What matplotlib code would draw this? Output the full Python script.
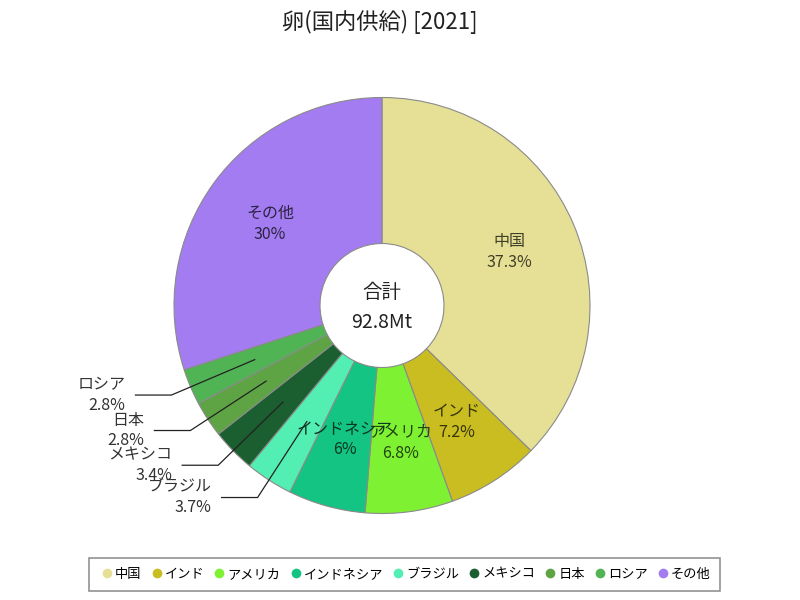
import numpy as np
import matplotlib
matplotlib.use("Agg")
import matplotlib.pyplot as plt
from matplotlib.lines import Line2D
from matplotlib.colors import to_rgb

plt.rcParams['font.family'] = ['Noto Sans CJK JP', 'DejaVu Sans']

title = "卵(国内供給) [2021]"
categories = ["中国", "インド", "アメリカ", "インドネシア", "ブラジル", "メキシコ", "日本", "ロシア", "その他"]
values = [37.3, 7.2, 6.8, 6.0, 3.7, 3.4, 2.8, 2.8, 30.0]
pct_labels = ["37.3%", "7.2%", "6.8%", "6%", "3.7%", "3.4%", "2.8%", "2.8%", "30%"]
colors = ["#e6e096", "#c9bd22", "#7ef232", "#14c482", "#52eeb2", "#1b5e30", "#5ea444", "#50b454", "#a27cf0"]
total_label = "92.8Mt"
outside = ["ブラジル", "メキシコ", "日本", "ロシア"]

fig = plt.figure(figsize=(8, 6), dpi=100)
ax = fig.add_axes([0, 0, 1, 1])
ax.axis('off')

cx, cy = 382, 294.5
R = 208
r_in = 62

wedges, _ = ax.pie(values, startangle=90, counterclock=False, colors=colors,
                   radius=R, center=(cx, cy),
                   wedgeprops=dict(width=R - r_in, edgecolor='#8a8a8a', linewidth=0.8))
ax.set_xlim(0, 800)
ax.set_ylim(0, 600)
ax.set_aspect('equal')

cum = np.cumsum([0] + values[:-1])
tot = sum(values)
for i, (cat, v) in enumerate(zip(categories, values)):
    mid = (cum[i] + v / 2) / tot * 360
    ang = np.deg2rad(90 - mid)
    ca, sa = np.cos(ang), np.sin(ang)
    rl = 0.665 * R
    px, py = cx + rl * ca, cy + rl * sa
    if cat in outside:
        ex, ey = cx + 1.1 * R * ca, cy + 1.1 * R * sa
        hx = ex - 36
        ax.plot([px, ex, hx], [py, ey, ey], color='#222222', lw=0.9)
        ax.text(hx - 10, ey, f"{cat}\n{pct_labels[i]}", ha='right', va='center',
                fontsize=11.5, color='#333333', linespacing=1.3)
    else:
        tc = tuple(np.array(to_rgb(colors[i])) * 0.28)
        ax.text(px, py, f"{cat}\n{pct_labels[i]}", ha='center', va='center',
                fontsize=11.5, color=tc, linespacing=1.3)

ax.text(cx, 308, "合計", ha='center', va='center', fontsize=14, color='#222222')
ax.text(cx, 278, total_label, ha='center', va='center', fontsize=14, color='#222222')

ax.text(380, 578, title, ha='center', va='center', fontsize=16, color='#222222')

handles = [Line2D([0], [0], marker='o', color='none', markerfacecolor=c,
                  markeredgecolor='none', markersize=7) for c in colors]
leg = fig.legend(handles, categories, loc='center', bbox_to_anchor=(0.506, 0.043),
                 ncol=9, frameon=True, fancybox=False, fontsize=9.5,
                 handletextpad=0.0, columnspacing=0.55, handlelength=1.2,
                 borderpad=0.75)
leg.get_frame().set_edgecolor('#777777')
leg.get_frame().set_linewidth(1.2)

fig.savefig("out.png", dpi=100)
